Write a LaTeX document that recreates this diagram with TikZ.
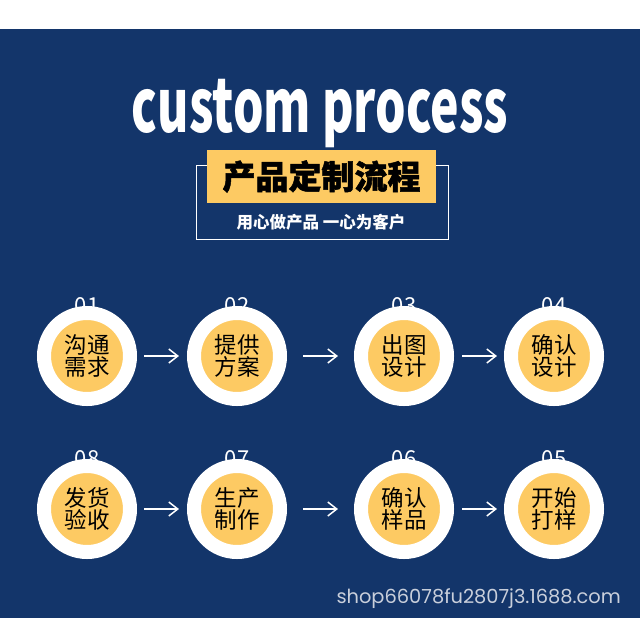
\documentclass[tikz,border=0pt]{standalone}
\usepackage{fontspec}
\setmainfont{Noto Sans CJK SC}
\newfontfamily\cjk{Noto Sans CJK SC}
\newfontfamily\cjkheavy[BoldFeatures={FakeBold=1.5}]{Noto Sans CJK SC}
\newfontfamily\titlefont[FakeStretch=0.65]{Noto Sans CJK SC}
\newfontfamily\urlfont{Poppins}
\usetikzlibrary{arrows.meta}
\definecolor{navy}{HTML}{13356A}
\definecolor{gold}{HTML}{FDCA63}
\definecolor{urlgray}{HTML}{C9CFDB}

\begin{document}
\begin{tikzpicture}[x=1pt,y=-1pt,
    stepnode/.style={circle,fill=gold,draw=white,line width=14pt,minimum size=86pt,
        inner sep=0pt,align=center,font=\cjk\fontsize{22.5}{21.5}\selectfont},
    numlabel/.style={anchor=base,text=white,font=\cjk\fontsize{22}{22}\selectfont},
    flow/.style={white,line width=1.5pt,-{Straight Barb[length=9pt,width=14pt]}}]
    % page and blue panel
    \useasboundingbox (0,0) rectangle (640,622);
    \fill[white] (0,0) rectangle (640,622);
    \fill[navy] (0,29) rectangle (640,618);
    % heading
    \node[anchor=base,inner sep=0pt,text=white,font=\titlefont\bfseries\fontsize{74}{74}\selectfont]
        (title) at (320,132) {custom process};
    \node[draw=white,line width=0.8pt,minimum width=252pt,minimum height=74pt,inner sep=0pt]
        (frame) at (322,202) {};
    \node[fill=gold,minimum width=229pt,minimum height=53pt,inner sep=0pt,
        font=\cjkheavy\bfseries\fontsize{33}{33}\selectfont] (boxtitle) at (321.5,176.5) {产品定制流程};
    \node[text=white,inner sep=0pt,font=\cjk\bfseries\fontsize{16.5}{16.5}\selectfont]
        (slogan) at (321,222) {用心做产品 一心为客户};
    % step numbers (partly under the rings)
    \node[numlabel] (n1) at (87,313) {01};
    \node[numlabel] (n2) at (237,313) {02};
    \node[numlabel] (n3) at (404,313) {03};
    \node[numlabel] (n4) at (554,313) {04};
    \node[numlabel] (n8) at (87,466) {08};
    \node[numlabel] (n7) at (237,466) {07};
    \node[numlabel] (n6) at (404,466) {06};
    \node[numlabel] (n5) at (554,466) {05};
    % steps, first row
    \node[stepnode] (s1) at (87,356) {沟通\\需求};
    \node[stepnode] (s2) at (237,356) {提供\\方案};
    \node[stepnode] (s3) at (404,356) {出图\\设计};
    \node[stepnode] (s4) at (554,356) {确认\\设计};
    % steps, second row
    \node[stepnode] (s8) at (87,509) {发货\\验收};
    \node[stepnode] (s7) at (237,509) {生产\\制作};
    \node[stepnode] (s6) at (404,509) {确认\\样品};
    \node[stepnode] (s5) at (554,509) {开始\\打样};
    % arrows
    \draw[flow,shorten <=7pt,shorten >=8pt] (s1) -- (s2);
    \draw[flow,shorten <=16pt,shorten >=16pt] (s2) -- (s3);
    \draw[flow,shorten <=8pt,shorten >=7pt] (s3) -- (s4);
    \draw[flow,shorten <=7pt,shorten >=8pt] (s8) -- (s7);
    \draw[flow,shorten <=16pt,shorten >=16pt] (s7) -- (s6);
    \draw[flow,shorten <=8pt,shorten >=7pt] (s6) -- (s5);
    % shop address
    \node[anchor=base east,inner sep=0pt,text=urlgray,font=\urlfont\fontsize{19.4}{19.4}\selectfont]
        (shop) at (621,603) {shop66078fu2807j3.1688.com};
\end{tikzpicture}
\end{document}
